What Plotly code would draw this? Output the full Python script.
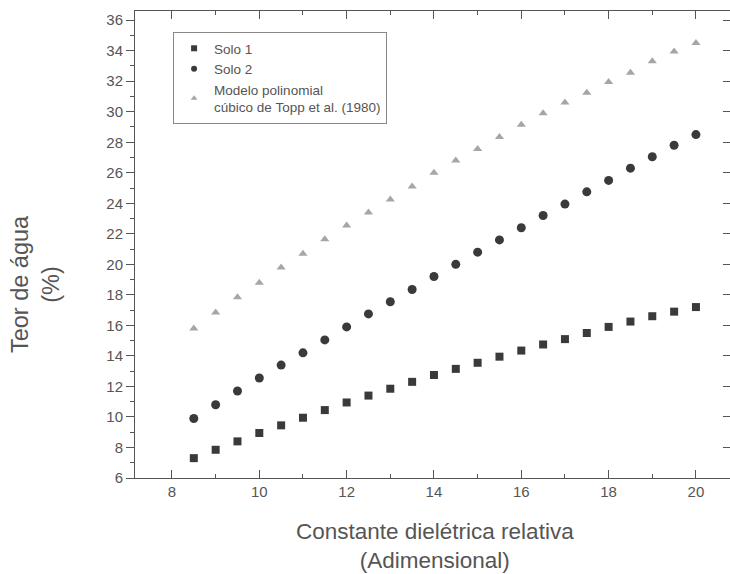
import plotly.graph_objects as go

constante = [8.5, 9.0, 9.5, 10.0, 10.5, 11.0, 11.5, 12.0, 12.5, 13.0, 13.5, 14.0,
             14.5, 15.0, 15.5, 16.0, 16.5, 17.0, 17.5, 18.0, 18.5, 19.0, 19.5, 20.0]
solo1 = [7.3, 7.85, 8.4, 8.95, 9.45, 9.95, 10.45, 10.95, 11.4, 11.85, 12.3, 12.75,
         13.15, 13.55, 13.95, 14.35, 14.75, 15.1, 15.5, 15.9, 16.25, 16.6, 16.9, 17.2]
solo2 = [9.9, 10.8, 11.7, 12.55, 13.4, 14.2, 15.05, 15.9, 16.75, 17.55, 18.35, 19.2,
         20.0, 20.8, 21.6, 22.4, 23.2, 23.95, 24.75, 25.5, 26.3, 27.05, 27.8, 28.5]
topp = [15.8, 16.85, 17.85, 18.8, 19.8, 20.7, 21.65, 22.55, 23.4, 24.25, 25.1, 26.0,
        26.8, 27.55, 28.35, 29.15, 29.9, 30.6, 31.25, 31.95, 32.55, 33.3, 33.95, 34.5]

names = ["Solo 1", "Solo 2", "Modelo polinomial<br>cúbico de Topp et al. (1980)"]
series = [solo1, solo2, topp]
symbols = ["square", "circle", "triangle-up"]
colors = ["#3a3a3a", "#3a3a3a", "#a6a6a6"]
sizes = [8, 9, 8]

font = "Arial, Liberation Sans, sans-serif"
txt = "#555555"
axc = "#555555"

fig = go.Figure()
for nm, ys, sy, c, s in zip(names, series, symbols, colors, sizes):
    fig.add_trace(go.Scatter(x=constante, y=ys, mode="markers", name=nm, showlegend=False,
                             marker=dict(symbol=sy, size=s, color=c)))
# legend entries with small symbols, as in the original
for nm, sy, c in zip(names, symbols, colors):
    fig.add_trace(go.Scatter(x=[None], y=[None], mode="markers", name=nm, showlegend=True,
                             marker=dict(symbol=sy, size=6, color=c)))
# right-hand axis with inward ticks
fig.add_trace(go.Scatter(x=[None], y=[None], yaxis="y2", showlegend=False, hoverinfo="skip"))

fig.update_layout(
    width=730, height=574,
    margin=dict(l=135, r=0, t=11, b=96),
    paper_bgcolor="white", plot_bgcolor="white",
    font=dict(family=font, color=txt),
    showlegend=True,
    legend=dict(x=0.064, y=0.955, xanchor="left", yanchor="top",
                bgcolor="white", bordercolor="#888888", borderwidth=1,
                font=dict(size=13.5, color=txt), tracegroupgap=0),
    xaxis=dict(
        range=[7.153, 20.78], tickmode="linear", tick0=8, dtick=2,
        ticks="inside", ticklen=8, tickcolor=axc,
        minor=dict(ticks="inside", ticklen=4, dtick=1, tick0=8, tickcolor=axc),
        showline=True, linecolor=axc, linewidth=1, mirror="ticks",
        showgrid=False, zeroline=False, automargin=False,
        tickfont=dict(size=15, color=txt),
    ),
    yaxis=dict(
        range=[6, 36.6], tickmode="linear", tick0=6, dtick=2,
        ticks="outside", ticklen=8, tickcolor=axc,
        minor=dict(ticks="outside", ticklen=4, dtick=1, tick0=6, tickcolor=axc),
        showline=True, linecolor=axc, linewidth=1,
        showgrid=False, zeroline=False, automargin=False,
        tickfont=dict(size=15, color=txt),
    ),
    yaxis2=dict(
        overlaying="y", side="right", matches="y", tickmode="linear", tick0=6, dtick=2,
        ticks="inside", ticklen=7, tickcolor=axc, showticklabels=False,
        showline=False,
        showgrid=False, zeroline=False, automargin=False,
    ),
    annotations=[
        dict(text="Teor de água<br>(%)", textangle=-90, xref="paper", yref="paper",
             x=-0.168, y=0.4154, xanchor="center", yanchor="middle", showarrow=False,
             font=dict(size=23.5, color=txt)),
        dict(text="Constante dielétrica relativa<br>(Adimensional)", xref="paper", yref="paper",
             x=0.504, y=-0.145, xanchor="center", yanchor="middle", showarrow=False,
             font=dict(size=22.5, color=txt)),
    ],
)

fig.write_html("out.html", config={"displayModeBar": False},
               post_script="document.body.style.margin='0px';document.body.style.overflow='hidden';")
